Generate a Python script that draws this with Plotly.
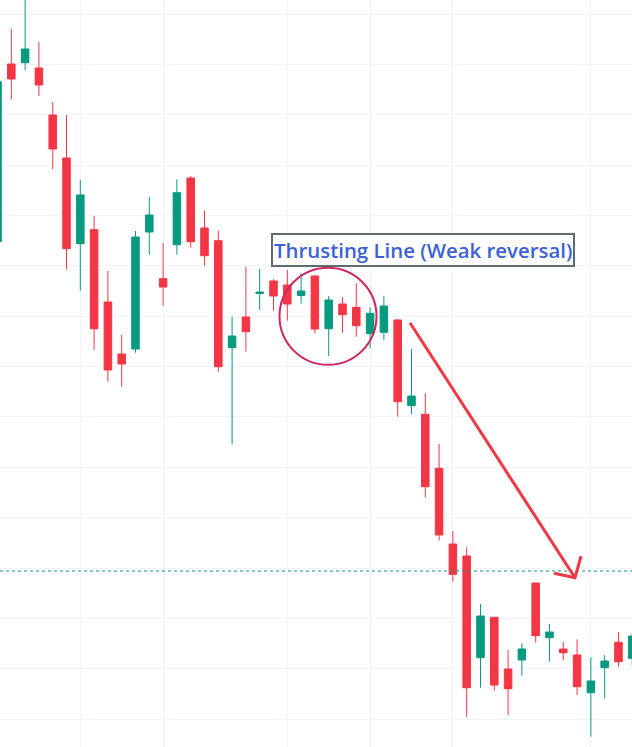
import plotly.graph_objects as go

# candle index -> OHLC (price units are arbitrary, no axis labels shown)
idx = list(range(47))
opens = [55.83, 73.6, 73.73, 73.2, 68.5, 64.2, 55.63, 57.03, 49.8, 44.6,
         45.1, 56.8, 52.13, 55.53, 62.2, 57.2, 55.93, 45.23, 48.3, 50.65,
         51.9, 51.5, 50.45, 52.4, 47.13, 49.6, 49.27, 46.63, 46.77, 48.0,
         39.43, 38.57, 33.17, 25.6, 24.4, 14.23, 18.27, 13.1, 14.0, 21.7,
         16.23, 15.1, 14.5, 10.73, 13.23, 15.77, 14.17]
highs = [72.2, 77.1, 80.8, 75.8, 69.8, 68.5, 62.0, 58.4, 52.9, 46.5,
         56.9, 60.3, 55.7, 62.07, 62.4, 58.93, 56.93, 48.33, 53.33, 53.13,
         52.07, 53.0, 52.67, 52.5, 50.4, 50.27, 51.67, 49.27, 50.4, 48.1,
         45.1, 40.67, 35.6, 26.9, 25.27, 19.6, 18.3, 15.0, 15.67, 21.7,
         17.6, 15.8, 16.07, 14.27, 14.47, 16.77, 16.7]
lows = [55.5, 70.07, 73.0, 70.4, 63.1, 53.07, 50.93, 45.0, 41.83, 41.33,
        44.73, 54.53, 49.43, 54.53, 55.23, 53.43, 42.83, 35.57, 44.83, 49.0,
        48.93, 47.93, 49.65, 46.67, 44.4, 46.73, 46.33, 45.17, 46.0, 38.33,
        38.6, 30.27, 25.93, 21.83, 8.33, 11.23, 10.93, 8.5, 12.43, 15.73,
        13.83, 14.0, 10.5, 6.33, 10.17, 13.33, 13.5]
closes = [71.83, 72.1, 75.1, 71.5, 65.1, 55.13, 60.5, 47.13, 43.0, 43.6,
          56.3, 58.5, 51.3, 60.73, 55.83, 54.43, 43.33, 46.4, 46.83, 50.8,
          50.4, 49.6, 50.9, 47.1, 50.0, 48.53, 47.43, 48.67, 49.4, 39.83,
          40.4, 31.33, 26.5, 22.57, 11.23, 18.4, 11.5, 11.13, 15.1, 16.43,
          16.8, 14.73, 11.33, 11.9, 13.9, 13.83, 16.4]

date_grid = [6, 12, 21, 27, 33, 43]  # candles that sit on a vertical grid line
last_price = 22.9

UP = '#089981'
DOWN = '#F23645'
GRID = '#f0f3fa'

fig = go.Figure()
fig.add_trace(go.Candlestick(
    x=idx, open=opens, high=highs, low=lows, close=closes,
    increasing=dict(line=dict(color=UP, width=1), fillcolor=UP),
    decreasing=dict(line=dict(color=DOWN, width=1), fillcolor=DOWN),
    whiskerwidth=0, hoverinfo='skip', showlegend=False,
))

# price line
fig.add_hline(y=last_price, line=dict(color=UP, width=1, dash='dot'))

# circle around the pattern
fig.add_shape(type='circle', xref='x', yref='y',
              xsizemode='pixel', ysizemode='pixel',
              xanchor=23.95, yanchor=48.37,
              x0=-48.5, x1=48.5, y0=-48.5, y1=48.5,
              line=dict(color='#d0245e', width=2))

# label
fig.add_annotation(x=30.83, y=55.03, xref='x', yref='y',
                   text='Thrusting Line (Weak reversal)', showarrow=False,
                   font=dict(family='Open Sans', size=20.4, color='#3a62d6', weight=600),
                   bgcolor='white', bordercolor='#5f6b70', borderwidth=2, borderpad=1)

# down arrow: shaft + open V head (head drawn in pixels around the tip)
tip_x, tip_y = 41.85, 22.23
fig.add_shape(type='line', xref='x', yref='y', x0=29.89, y0=47.73, x1=tip_x, y1=tip_y,
              line=dict(color=DOWN, width=3))
fig.add_shape(type='path', xref='x', yref='y',
              xsizemode='pixel', ysizemode='pixel', xanchor=tip_x, yanchor=tip_y,
              path='M -21,4.5 L 0,0 L 6,21.5',
              line=dict(color=DOWN, width=3))

fig.update_xaxes(range=[0.18, 45.98], tickvals=date_grid, showticklabels=False,
                 showgrid=True, gridcolor=GRID, gridwidth=1, zeroline=False,
                 showline=False, rangeslider=dict(visible=False), fixedrange=True)
fig.update_yaxes(range=[5.3, 80], tick0=23.2, dtick=5.035, showticklabels=False,
                 showgrid=True, gridcolor=GRID, gridwidth=1, zeroline=False,
                 showline=False, fixedrange=True)
fig.update_layout(width=632, height=747, margin=dict(l=0, r=0, t=0, b=0),
                  paper_bgcolor='white', plot_bgcolor='white',
                  boxgap=0.22, hovermode=False)

fig.write_html("out.html", config={'displayModeBar': False},
               post_script="document.body.style.margin='0';")
